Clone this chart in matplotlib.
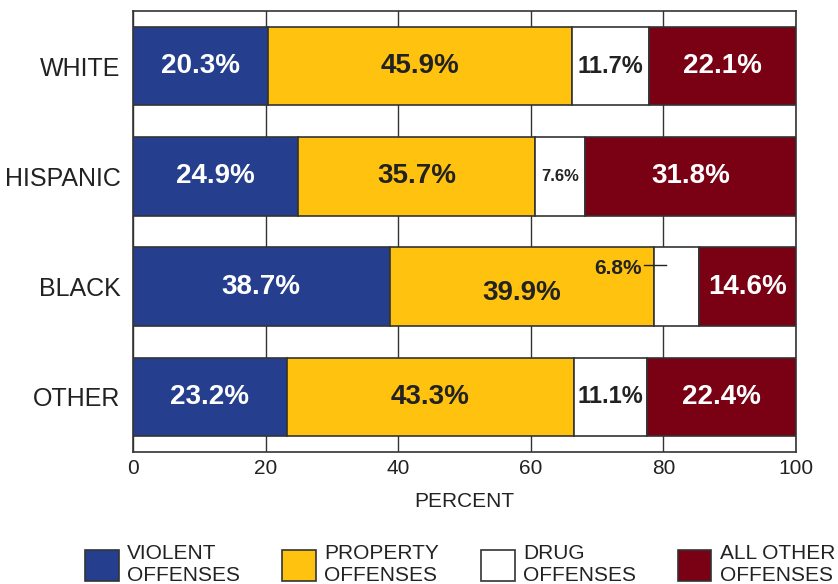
import matplotlib.pyplot as plt
from matplotlib.patches import Patch

plt.rcParams['font.family'] = ['Liberation Sans', 'DejaVu Sans']

groups = ["WHITE", "HISPANIC", "BLACK", "OTHER"]
violent = [20.3, 24.9, 38.7, 23.2]
property_ = [45.9, 35.7, 39.9, 43.3]
drug = [11.7, 7.6, 6.8, 11.1]
other = [22.1, 31.8, 14.6, 22.4]

series = [violent, property_, drug, other]
colors = ["#253f8e", "#fec20f", "#ffffff", "#7a0014"]
text_colors = ["white", "#222222", "#222222", "white"]
legend_labels = ["VIOLENT\nOFFENSES", "PROPERTY\nOFFENSES", "DRUG\nOFFENSES", "ALL OTHER\nOFFENSES"]
edge = "#333333"

fig = plt.figure(figsize=(8.38, 5.84), dpi=100)
ax = fig.add_axes([0.1587, 0.226, 0.7912, 0.7552])

ypos = list(range(len(groups)))
left = [0.0] * len(groups)
for s, vals in enumerate(series):
    ax.barh(ypos, vals, left=left, height=0.71, color=colors[s],
            edgecolor=edge, linewidth=1.2, zorder=3)
    for i, v in enumerate(vals):
        cx = left[i] + v / 2
        cy = ypos[i]
        size = 20
        if s == 2:
            size = 17 if v > 10 else 12
        if s == 2 and groups[i] == "BLACK":
            # small segment: label sits in the yellow bar with a leader line
            ax.text(left[i] - 1.9, cy - 0.16, f"{v}%", ha="right", va="center",
                    fontsize=15, fontweight="bold", color="#222222", zorder=5)
            ax.plot([left[i] - 1.6, left[i] + 1.8], [cy - 0.2, cy - 0.2],
                    color="#222222", lw=1, zorder=5)
            continue
        if s == 1 and groups[i] == "BLACK":
            cy += 0.06
        ax.text(cx, cy, f"{v}%", ha="center", va="center", fontsize=size,
                fontweight="bold", color=text_colors[s], zorder=5)
    left = [l + v for l, v in zip(left, vals)]

ax.set_xlim(0, 100)
ax.set_ylim(3.5, -0.5)
ax.set_xticks([0, 20, 40, 60, 80, 100])
ax.set_yticks(ypos)
ax.set_yticklabels(groups, fontsize=18)
ax.tick_params(axis="x", labelsize=15, length=0, pad=5, colors="#222222")
ax.tick_params(axis="y", length=0, pad=9, colors="#222222")
ax.xaxis.grid(True, color="#333333", linewidth=1, zorder=0)
ax.set_axisbelow(True)
for sp in ax.spines.values():
    sp.set_color(edge)
    sp.set_linewidth(1.2)
ax.set_xlabel("PERCENT", fontsize=15, labelpad=10, color="#222222")

handles = [Patch(facecolor=c, edgecolor=edge, linewidth=1.2) for c in colors]
fig.legend(handles, legend_labels, loc="center", bbox_to_anchor=(0.549, 0.033),
           ncol=4, frameon=False, fontsize=15, handlelength=1.63,
           handleheight=1.9, handletextpad=0.4, columnspacing=2.0,
           labelspacing=0.2, labelcolor="#222222")

fig.savefig("out.png", dpi=100)
